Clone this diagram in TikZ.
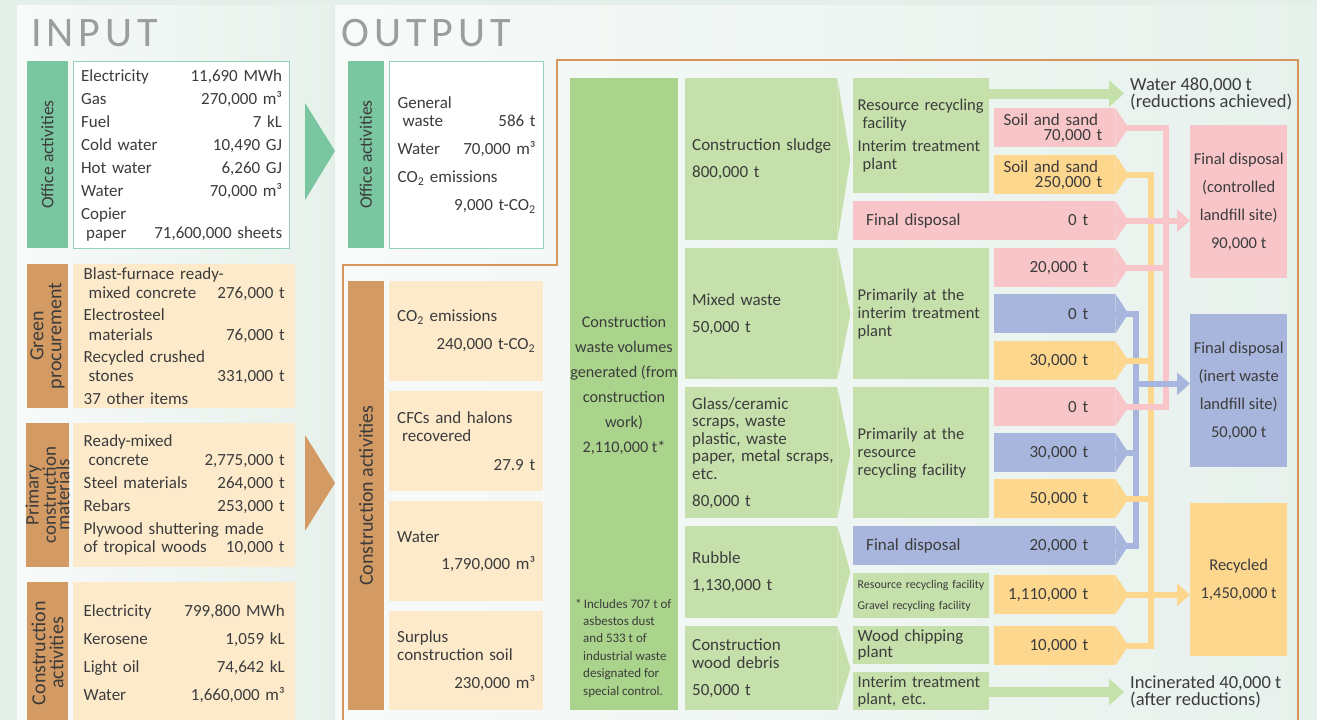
\documentclass[tikz,border=0pt]{standalone}
\usepackage{fontspec}
\setmainfont{Carlito}
\newfontfamily\headfont[LetterSpace=12]{Carlito}
\usetikzlibrary{arrows.meta,calc}

\definecolor{pagebg}{HTML}{E4EFE9}
\definecolor{panelL}{HTML}{F7FAF9}
\definecolor{panelR}{HTML}{E7F1EC}
\definecolor{tabgreen}{HTML}{7AC6A0}
\definecolor{boxline}{HTML}{93D2B3}
\definecolor{tabbrown}{HTML}{D39A63}
\definecolor{beige}{HTML}{FDEACB}
\definecolor{frame}{HTML}{D6955A}
\definecolor{colgreen}{HTML}{AAD48B}
\definecolor{wgreen}{HTML}{C5E0AA}
\definecolor{wpink}{HTML}{F8C5C9}
\definecolor{wblue}{HTML}{A8B6DE}
\definecolor{wyellow}{HTML}{FED78F}
\definecolor{ink}{HTML}{3C3C3C}
\definecolor{headgray}{HTML}{9A9F9E}

\newcommand{\ind}{\hspace*{5pt}}
\newcommand{\rt}{\mbox{}\hfill}
\newcommand{\rpad}{\hspace*{27pt}}
\newcommand{\cotwo}{CO\textsubscript{2}}
\newcommand{\mcu}{m³}

\begin{document}
\begin{tikzpicture}[x=1pt, y=-1pt,
every node/.style={text=ink, inner sep=0pt},
f17/.style={font=\fontsize{17}{19.5}\selectfont},
tabtext/.style={rotate=90, align=center, font=\fontsize{20}{18}\selectfont},
gtab/.style={tabtext, fill=tabgreen},
btab/.style={tabtext, fill=tabbrown},
listbox/.style={anchor=north west, align=left, text width=201, f17},
whitebox/.style={listbox, fill=white, draw=boxline, line width=1.2pt},
beigebox/.style={listbox, fill=beige},
outbox/.style={anchor=north west, align=left, text width=138, minimum width=154, f17},
wastebox/.style={anchor=north west, align=left, fill=wgreen, text width=138, minimum width=152, font=\fontsize{17}{17.5}\selectfont},
plantbox/.style={anchor=north west, align=left, fill=wgreen, text width=127, minimum width=136, font=\fontsize{16.5}{18}\selectfont},
flowbox/.style={anchor=north west, align=right, text width=121, minimum height=39, font=\fontsize{17}{15}\selectfont},
endbox/.style={anchor=north west, align=center, minimum width=97, minimum height=153, font=\fontsize{16.5}{28}\selectfont},
note/.style={anchor=west, align=left, font=\fontsize{18.5}{17}\selectfont},
bus/.style={line width=6pt},
busarrow/.style={bus, -{Triangle[length=13pt, width=22pt]}},
fatarrow/.style={draw=wgreen, line width=10pt, -{Triangle[length=15pt, width=26pt]}}
]
\clip (0,0) rectangle (1317,720);
\fill[pagebg] (0,0) rectangle (1317,720);
\fill[left color=panelL, right color=panelR] (17,5) rectangle (331,724);
\fill[left color=panelL, right color=panelR] (335,5) rectangle (1317,724);
\draw[frame, line width=2.5pt] (343,724) |- (557,265) |- (1298,60) -- (1298,724);

% titles
\node[anchor=base west, text=headgray, font=\headfont\fontsize{42}{42}\selectfont] (inTitle) at (31,46) {INPUT};
\node[anchor=base west, text=headgray, font=\headfont\fontsize{42}{42}\selectfont] (outTitle) at (341,46) {OUTPUT};

% input side
\node[gtab, minimum width=187, minimum height=41, font=\fontsize{17.5}{18}\selectfont] (tabOffice) at (47.5,154.5) {Office activities};
\node[whitebox, minimum width=216, minimum height=187, font=\fontsize{17}{23}\selectfont] (inOffice) at (73,61) {
Electricity\hfill 11,690 MWh\\
Gas\hfill 270,000 \mcu\\
Fuel\hfill 7 kL\\
Cold water\hfill 10,490 GJ\\
Hot water\hfill 6,260 GJ\\
Water\hfill 70,000 \mcu\\
Copier\\[-4pt]
\ind paper\hfill 71,600,000 sheets};

\node[btab, minimum width=144, minimum height=41] (tabGreen) at (47.5,336) {Green\\procurement};
\node[beigebox, minimum width=222, minimum height=144] (inGreen) at (73,264) {
Blast-furnace ready-\\
\ind mixed concrete\hfill 276,000 t\\[2.5pt]
Electrosteel\\
\ind materials\hfill 76,000 t\\[2.5pt]
Recycled crushed\\
\ind stones\hfill 331,000 t\\[3.5pt]
37 other items};

\node[btab, minimum width=144, minimum height=41, font=\fontsize{19}{13.5}\selectfont] (tabPrimary) at (47.5,495) {Primary\\construction\\materials};
\node[beigebox, minimum width=222, minimum height=144] (inPrimary) at (73,423) {
Ready-mixed\\
\ind concrete\hfill 2,775,000 t\\[3.5pt]
Steel materials\hfill 264,000 t\\[3.5pt]
Rebars\hfill 253,000 t\\[3pt]
Plywood shuttering made\\[-1pt]
of tropical woods\hfill 10,000 t};

\node[btab, minimum width=142, minimum height=41] (tabCons) at (47.5,653) {Construction\\activities};
\node[beigebox, minimum width=222, minimum height=142, font=\fontsize{17}{28}\selectfont] (inCons) at (73,582) {
Electricity\hfill 799,800 MWh\\
Kerosene\hfill 1,059 kL\\
Light oil\hfill 74,642 kL\\
Water\hfill 1,660,000 \mcu};

\fill[tabgreen] (305,103) -- (335,151) -- (305,200) -- cycle;
\fill[tabbrown] (305,435) -- (335,483) -- (305,531) -- cycle;

% output side
\node[gtab, minimum width=187, minimum height=36, font=\fontsize{17.5}{18}\selectfont] (tabOffOut) at (366,154.5) {Office activities};
\node[outbox, fill=white, draw=boxline, line width=1.2pt, minimum height=187, font=\fontsize{17}{18}\selectfont] (outOffice) at (389,61) {
General\\
\ind waste\hfill 586 t\\[10pt]
Water\hfill 70,000 \mcu\\[10pt]
\cotwo{} emissions\\[10pt]
\rt 9,000 t-\cotwo};

\node[btab, minimum width=429, minimum height=36] (tabConsOut) at (366,495.5) {Construction activities};
\node[outbox, fill=beige, minimum height=100, font=\fontsize{17}{18}\selectfont] (outCO) at (389,281) {
\cotwo{} emissions\\[10pt]
\rt 240,000 t-\cotwo};
\node[outbox, fill=beige, minimum height=100, font=\fontsize{17}{18}\selectfont] (outCFC) at (389,391) {
CFCs and halons\\
\ind recovered\\[11pt]
\rt 27.9 t};
\node[outbox, fill=beige, minimum height=100, font=\fontsize{17}{18}\selectfont] (outWater) at (389,501) {
Water\\[9pt]
\rt 1,790,000 \mcu};
\node[outbox, fill=beige, minimum height=99, font=\fontsize{17}{18}\selectfont] (outSoil) at (389,611) {
Surplus\\
construction soil\\[10pt]
\rt 230,000 \mcu};

% construction waste
\node[fill=colgreen, anchor=north west, minimum width=108, minimum height=632] (column) at (570,78) {};
\node[align=center, font=\fontsize{16.2}{25}\selectfont] (colText) at (624,385) {Construction\\waste volumes\\generated (from\\construction\\work)\\2,110,000 t*};
\node[anchor=west, align=left, font=\fontsize{13}{17.4}\selectfont] (colNote) at (575,648) {*\,Includes 707 t of\\
\hspace*{8pt}asbestos dust\\
\hspace*{8pt}and 533 t of\\
\hspace*{8pt}industrial waste\\
\hspace*{8pt}designated for\\
\hspace*{8pt}special control.};

\node[wastebox, minimum height=162] (sludge) at (685,78) {\mbox{Construction sludge}\\[9.5pt] 800,000 t};
\node[wastebox, minimum height=131] (mixed) at (685,248) {Mixed waste\\[9.5pt] 50,000 t};
\node[wastebox, minimum height=131] (glass) at (685,387) {Glass/ceramic\\ scraps, waste\\ plastic, waste\\ \mbox{paper, metal scraps,}\\ etc.\\[9.5pt] 80,000 t};
\node[wastebox, minimum height=92] (rubble) at (685,526) {Rubble\\[9.5pt] 1,130,000 t};
\node[wastebox, minimum height=84] (wood) at (685,626) {Construction\\ wood debris\\[9.5pt] 50,000 t};

\node[plantbox, minimum height=115] (plantA) at (853,78) {\mbox{Resource recycling}\\ \ind facility\\[5pt] \mbox{Interim treatment}\\ \ind plant};
\node[plantbox, minimum height=131] (plantB) at (853,248) {Primarily at the\\ \mbox{interim treatment}\\ plant};
\node[plantbox, minimum height=131] (plantC) at (853,387) {Primarily at the\\ resource\\ \mbox{recycling facility}};
\node[plantbox, minimum height=45, font=\fontsize{11.9}{21}\selectfont] (plantD) at (853,573) {\mbox{Resource recycling facility}\\ \mbox{Gravel recycling facility}};
\node[plantbox, minimum height=38, font=\fontsize{17}{16}\selectfont] (plantE) at (853,626) {Wood chipping\\ plant};
\node[plantbox, minimum height=38, font=\fontsize{16.5}{17}\selectfont] (plantF) at (853,672) {\mbox{Interim treatment}\\ plant, etc.};

% flows
\node[flowbox, fill=wpink] (soilA) at (994,108) {Soil and sand\kern17pt\\70,000 t\kern13pt};
\node[flowbox, fill=wyellow] (soilB) at (994,155) {Soil and sand\kern17pt\\250,000 t\kern13pt};
\node[flowbox, fill=wpink, text width=262, align=left] (fdA) at (853,201) {\hspace*{13pt}Final disposal\hfill 0 t\rpad};
\node[flowbox, fill=wpink] (pkB) at (994,248) {20,000 t\rpad};
\node[flowbox, fill=wblue] (blA) at (994,294) {0 t\rpad};
\node[flowbox, fill=wyellow] (ylA) at (994,341) {30,000 t\rpad};
\node[flowbox, fill=wpink] (pkC) at (994,387) {0 t\rpad};
\node[flowbox, fill=wblue] (blB) at (994,433) {30,000 t\rpad};
\node[flowbox, fill=wyellow] (ylB) at (994,479) {50,000 t\rpad};
\node[flowbox, fill=wblue, text width=262, align=left] (fdB) at (853,526) {\hspace*{13pt}Final disposal\hfill 20,000 t\rpad};
\node[flowbox, fill=wyellow] (ylC) at (994,575) {1,110,000 t\rpad};
\node[flowbox, fill=wyellow] (ylD) at (994,626) {10,000 t\rpad};

% pentagon points
\foreach \n/\c in {sludge/wgreen, mixed/wgreen, glass/wgreen, rubble/wgreen, wood/wgreen,
  soilA/wpink, soilB/wyellow, fdA/wpink, pkB/wpink, blA/wblue, ylA/wyellow,
  pkC/wpink, blB/wblue, ylB/wyellow, fdB/wblue, ylC/wyellow, ylD/wyellow}
  \fill[\c] (\n.north east) -- ($(\n.east)+(13,0)$) -- (\n.south east) -- cycle;

% end results
\node[endbox, fill=wpink] (ctrl) at (1190,125) {Final disposal\\(controlled\\landfill site)\\90,000 t};
\node[endbox, fill=wblue] (inert) at (1190,314) {Final disposal\\(inert waste\\landfill site)\\50,000 t};
\node[endbox, fill=wyellow] (recyc) at (1190,503) {Recycled\\1,450,000 t};
\node[note] (water) at (1130,93.5) {Water 480,000 t\\(reductions achieved)};
\node[note] (incin) at (1130,692) {Incinerated 40,000 t\\(after reductions)};

\coordinate (blueBus) at (1135.5,0);
\coordinate (yellowBus) at (1151,0);
\coordinate (pinkBus) at (1166,0);

\draw[bus, wyellow] (soilB.east) -- (soilB.east -| yellowBus) -- (ylD.east -| yellowBus) -- (ylD.east);
\draw[bus, wblue] (blA.east) -- (blA.east -| blueBus) -- (fdB.east -| blueBus) -- (fdB.east);
\draw[bus, wblue] (blB.east) -- (blB.east -| blueBus);
\foreach \n in {ylA, ylB}
  \draw[bus, wyellow] (\n.east) -- (\n.east -| yellowBus);
\draw[bus, wpink] (soilA.east) -- (soilA.east -| pinkBus) -- (pkC.east -| pinkBus) -- (pkC.east);
\draw[bus, wpink] (pkB.east) -- (pkB.east -| pinkBus);
\draw[busarrow, wpink] (fdA.east) -- (fdA.east -| ctrl.west);
\draw[busarrow, wblue] ([yshift=7pt]inert.west -| blueBus) -- ([yshift=7pt]inert.west);
\draw[busarrow, wyellow] (ylC.east) -- (ylC.east -| recyc.west);

\draw[fatarrow] (water.west -| plantA.east) -- ([xshift=-6pt]water.west);
\draw[fatarrow] (incin.west -| plantF.east) -- ([xshift=-6pt]incin.west);
\end{tikzpicture}
\end{document}
